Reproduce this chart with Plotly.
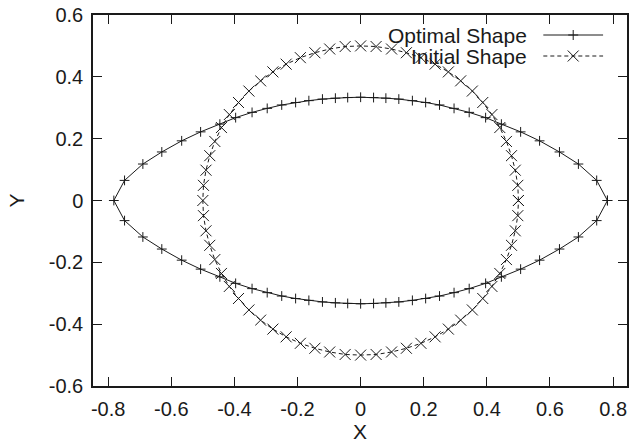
import plotly.graph_objects as go

# Initial shape (circle, closed curve, starts and ends at (0.5, 0))
init_x = [0.500, 0.498, 0.490, 0.478, 0.462, 0.441, 0.416, 0.387, 0.354, 0.317, 0.278, 0.236, 0.191, 0.145, 0.098, 0.049,
          0.000, -0.049, -0.098, -0.145, -0.191, -0.236, -0.278, -0.317, -0.354, -0.387, -0.416, -0.441, -0.462, -0.478, -0.490, -0.498,
          -0.500, -0.498, -0.490, -0.478, -0.462, -0.441, -0.416, -0.387, -0.354, -0.317, -0.278, -0.236, -0.191, -0.145, -0.098, -0.049,
          0.000, 0.049, 0.098, 0.145, 0.191, 0.236, 0.278, 0.317, 0.354, 0.387, 0.416, 0.441, 0.462, 0.478, 0.490, 0.498,
          0.500]
init_y = [0.000, 0.049, 0.098, 0.145, 0.191, 0.236, 0.278, 0.317, 0.354, 0.387, 0.416, 0.441, 0.462, 0.478, 0.490, 0.498,
          0.500, 0.498, 0.490, 0.478, 0.462, 0.441, 0.416, 0.387, 0.354, 0.317, 0.278, 0.236, 0.191, 0.145, 0.098, 0.049,
          0.000, -0.049, -0.098, -0.145, -0.191, -0.236, -0.278, -0.317, -0.354, -0.387, -0.416, -0.441, -0.462, -0.478, -0.490, -0.498,
          -0.500, -0.498, -0.490, -0.478, -0.462, -0.441, -0.416, -0.387, -0.354, -0.317, -0.278, -0.236, -0.191, -0.145, -0.098, -0.049,
          0.000]

# Optimal shape (closed curve, starts and ends at (0.782, 0))
opt_x = [0.782, 0.748, 0.690, 0.630, 0.567, 0.507, 0.446, 0.396, 0.344, 0.296, 0.250, 0.206, 0.164, 0.121, 0.080, 0.041,
         0.000, -0.041, -0.080, -0.121, -0.164, -0.206, -0.250, -0.296, -0.344, -0.396, -0.446, -0.507, -0.567, -0.630, -0.690, -0.748,
         -0.782, -0.748, -0.690, -0.630, -0.567, -0.507, -0.446, -0.396, -0.344, -0.296, -0.250, -0.206, -0.164, -0.121, -0.080, -0.041,
         0.000, 0.041, 0.080, 0.121, 0.164, 0.206, 0.250, 0.296, 0.344, 0.396, 0.446, 0.507, 0.567, 0.630, 0.690, 0.748,
         0.782]
opt_y = [0.000, 0.065, 0.118, 0.157, 0.193, 0.222, 0.247, 0.268, 0.285, 0.298, 0.309, 0.317, 0.323, 0.328, 0.331, 0.333,
         0.334, 0.333, 0.331, 0.328, 0.323, 0.317, 0.309, 0.298, 0.285, 0.268, 0.247, 0.222, 0.193, 0.157, 0.118, 0.065,
         0.000, -0.065, -0.118, -0.157, -0.193, -0.222, -0.247, -0.268, -0.285, -0.298, -0.309, -0.317, -0.323, -0.328, -0.331, -0.333,
         -0.334, -0.333, -0.331, -0.328, -0.323, -0.317, -0.309, -0.298, -0.285, -0.268, -0.247, -0.222, -0.193, -0.157, -0.118, -0.065,
         0.000]

x_ticks = [-0.8, -0.6, -0.4, -0.2, 0, 0.2, 0.4, 0.6, 0.8]
x_tick_text = ["-0.8", "-0.6", "-0.4", "-0.2", "0", "0.2", "0.4", "0.6", "0.8"]
y_ticks = [-0.6, -0.4, -0.2, 0, 0.2, 0.4, 0.6]
y_tick_text = ["-0.6", "-0.4", "-0.2", "0", "0.2", "0.4", "0.6"]
series_names = ["Optimal Shape", "Initial Shape"]

INK = "#1a1a1a"
FONT = "Liberation Sans, Arial, Helvetica, sans-serif"
W, H = 629, 445
ML, MR, MT, MB = 93, 0, 15, 59
DASH = "4px,3px"

fig = go.Figure()
fig.add_trace(go.Scatter(
    x=opt_x, y=opt_y, mode="lines+markers", name=series_names[0],
    line=dict(color=INK, width=1),
    marker=dict(symbol="cross-thin", size=7, line=dict(color=INK, width=1), color=INK),
    showlegend=False))
fig.add_trace(go.Scatter(
    x=init_x, y=init_y, mode="lines+markers", name=series_names[1],
    line=dict(color=INK, width=1, dash=DASH),
    marker=dict(symbol="x-thin", size=11, line=dict(color=INK, width=1), color=INK),
    showlegend=False))

pw = W - ML - MR
ph = H - MT - MB

def px2paper(xp, yp):
    return (xp - ML) / pw, 1 - (yp - MT) / ph

shapes = []
annotations = []
key_rows = [(35, "solid", "plus"), (56, "dash", "x")]
for (yrow, dash, mk), name in zip(key_rows, series_names):
    x0, y0 = px2paper(545, yrow)
    x1, _ = px2paper(605, yrow)
    shapes.append(dict(type="line", xref="paper", yref="paper", x0=x0, x1=x1, y0=y0, y1=y0,
                       line=dict(color=INK, width=1, dash=DASH if dash == "dash" else "solid")))
    cx, cy = px2paper(575, yrow)
    if mk == "plus":
        a, _ = px2paper(570, yrow)
        b, _ = px2paper(580, yrow)
        _, c = px2paper(575, yrow - 5)
        _, d = px2paper(575, yrow + 5)
        shapes.append(dict(type="line", xref="paper", yref="paper", x0=a, x1=b, y0=cy, y1=cy, line=dict(color=INK, width=1)))
        shapes.append(dict(type="line", xref="paper", yref="paper", x0=cx, x1=cx, y0=c, y1=d, line=dict(color=INK, width=1)))
    else:
        a, c = px2paper(569.5, yrow - 5.5)
        b, d = px2paper(580.5, yrow + 5.5)
        shapes.append(dict(type="line", xref="paper", yref="paper", x0=a, x1=b, y0=c, y1=d, line=dict(color=INK, width=1)))
        shapes.append(dict(type="line", xref="paper", yref="paper", x0=a, x1=b, y0=d, y1=c, line=dict(color=INK, width=1)))
    tx, ty = px2paper(531, yrow)
    annotations.append(dict(text=name, xref="paper", yref="paper", x=tx, y=ty, xanchor="right", yanchor="middle",
                            showarrow=False, font=dict(family=FONT, size=21, color=INK)))

axis_common = dict(showline=True, linecolor=INK, linewidth=1.5, mirror="ticks", ticks="inside",
                   ticklen=9, tickwidth=1, tickcolor=INK, showgrid=False, zeroline=False,
                   tickfont=dict(family=FONT, size=20, color=INK))

fig.update_layout(
    width=W, height=H,
    margin=dict(l=ML, r=MR, t=MT, b=MB, pad=0),
    paper_bgcolor="white", plot_bgcolor="white",
    xaxis=dict(range=[-0.848, 0.844], tickvals=x_ticks, ticktext=x_tick_text,
               title=dict(text="X", font=dict(family=FONT, size=21, color=INK), standoff=4),
               ticklabelstandoff=4, **axis_common),
    yaxis=dict(range=[-0.6, 0.6], tickvals=y_ticks, ticktext=y_tick_text,
               title=dict(text="Y", font=dict(family=FONT, size=21, color=INK), standoff=18),
               ticklabelstandoff=4, **axis_common),
    shapes=shapes, annotations=annotations,
)

fig.write_html("out.html", config={"displayModeBar": False},
               post_script="document.body.style.margin='0';document.body.style.overflow='hidden';")
